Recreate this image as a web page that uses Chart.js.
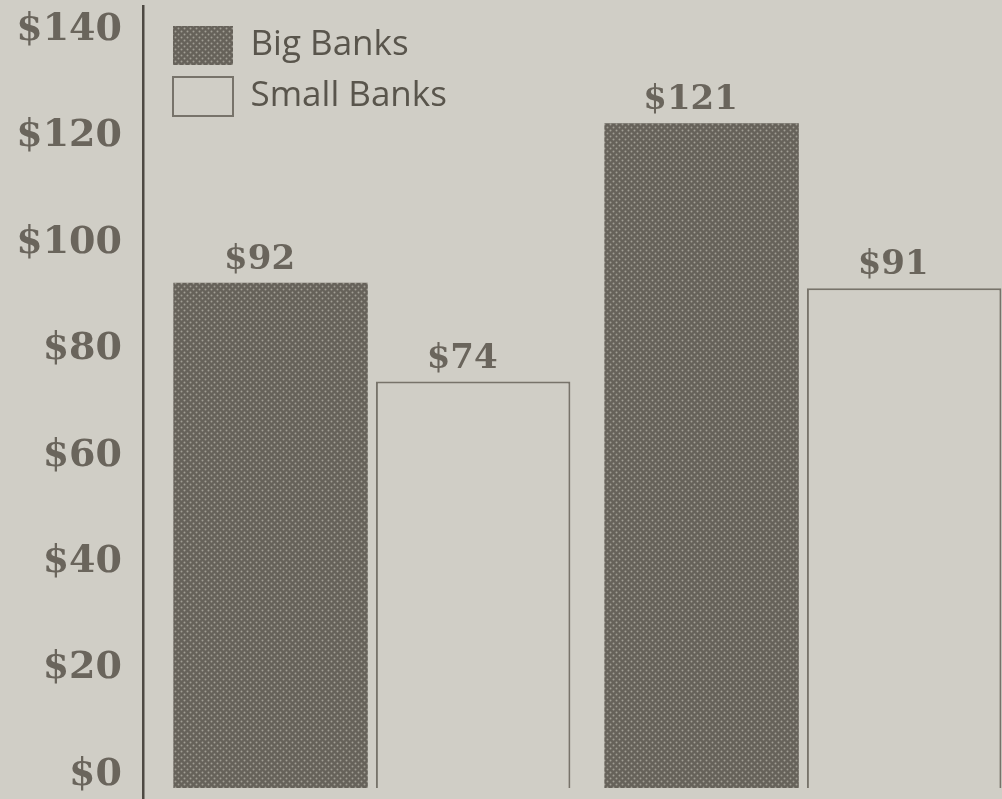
<!DOCTYPE html>
<html>
<head>
<meta charset="utf-8">
<script src="https://cdn.jsdelivr.net/npm/chart.js@4/dist/chart.umd.min.js"></script>
<style>
  html, body { margin: 0; padding: 0; background: #d0cec6; overflow: hidden; }
  #wrap { position: relative; width: 1002px; height: 799px; }
</style>
</head>
<body>
<div id="wrap"><canvas id="c"></canvas></div>
<script>
// ---- data ----
const categories = ['Group 1', 'Group 2'];
const seriesNames = ['Big Banks', 'Small Banks'];
const bigBanks = [92, 121];
const smallBanks = [74, 91];
const tickValues = [0, 20, 40, 60, 80, 100, 120, 140];
const tickLabels = ['$0', '$20', '$40', '$60', '$80', '$100', '$120', '$140'];

// ---- styles ----
const BG = '#d0cec6';
const INK = '#6a655c';
function dotPattern() {
  const c = document.createElement('canvas');
  c.width = 6; c.height = 6;
  const g = c.getContext('2d');
  g.fillStyle = '#66625a';
  g.fillRect(0, 0, 6, 6);
  g.fillStyle = '#a19e94';
  [[1.5, 1.5], [4.5, 4.5]].forEach(([x, y]) => {
    g.beginPath(); g.arc(x, y, 1.0, 0, Math.PI * 2); g.fill();
  });
  return g.createPattern(c, 'repeat');
}
const pattern = dotPattern();

const toPoints = arr => arr.map((v, i) => ({ x: i, y: v }));

const valueLabels = {
  id: 'valueLabels',
  afterDatasetsDraw(chart) {
    const ctx = chart.ctx;
    ctx.save();
    ctx.font = 'bold 34px "DejaVu Serif"';
    ctx.fillStyle = INK;
    ctx.textAlign = 'center';
    ctx.textBaseline = 'alphabetic';
    chart.data.datasets.forEach((ds, di) => {
      const meta = chart.getDatasetMeta(di);
      meta.data.forEach((el, i) => {
        ctx.fillText('$' + ds.data[i].y, el.x - 11, el.y - 14);
      });
    });
    ctx.restore();
  }
};

const legendShift = {
  id: 'legendShift',
  afterLayout(chart) {
    const lg = chart.legend;
    if (lg) { lg.left = 161; lg.top = 14; }
  }
};

new Chart(document.getElementById('c'), {
  type: 'bar',
  data: {
    labels: categories,
    datasets: [
      {
        label: seriesNames[0],
        data: toPoints(bigBanks),
        backgroundColor: pattern,
        borderWidth: 0,
        borderColor: '#66625a'
      },
      {
        label: seriesNames[1],
        data: toPoints(smallBanks),
        backgroundColor: BG,
        borderColor: '#77736a',
        borderWidth: 2
      }
    ]
  },
  options: {
    responsive: true,
    maintainAspectRatio: false,
    animation: false,
    categoryPercentage: 0.94,
    barPercentage: 0.96,
    layout: { padding: { left: 0, right: 0, top: 6, bottom: 0 } },
    plugins: {
      legend: {
        position: 'chartArea',
        align: 'start',
        labels: {
          boxWidth: 60,
          boxHeight: 39,
          padding: 12,
          color: '#59554c',
          font: { family: '"Open Sans"', size: 35, weight: '400' }
        }
      },
      tooltip: { enabled: false }
    },
    scales: {
      x: {
        type: 'linear',
        display: false,
        offset: false,
        min: -0.531,
        max: 1.462,
        afterBuildTicks: s => { s.ticks = categories.map((_, i) => ({ value: i })); }
      },
      // value axis used by the bars: draws the vertical axis line
      y: {
        position: 'left',
        weight: 0,
        min: -1.82,
        max: 142.36,
        afterBuildTicks: s => { s.ticks = tickValues.map(v => ({ value: v })); },
        afterFit: s => { s.width = 0; },
        grid: { display: false, drawTicks: false },
        border: { display: true, color: '#4d4942', width: 2.5 },
        ticks: { display: false, padding: 0 }
      },
      // dollar tick labels, placed as printed in the original
      yLabels: {
        type: 'linear',
        position: 'left',
        weight: 1,
        min: -4.32,
        max: 144.5,
        afterBuildTicks: s => { s.ticks = tickValues.map(v => ({ value: v })); },
        afterFit: s => { s.width = 143; },
        grid: { display: true, color: 'rgba(0,0,0,0)', drawOnChartArea: false, drawTicks: true, tickLength: 21 },
        border: { display: false },
        ticks: {
          padding: 0,
          color: INK,
          font: { family: '"DejaVu Serif"', size: 38, weight: 'bold', lineHeight: 0.05 },
          callback: (v) => {
            const i = tickValues.indexOf(v);
            return i >= 0 ? tickLabels[i] : '';
          }
        }
      }
    }
  },
  plugins: [valueLabels, legendShift]
});
</script>
</body>
</html>
